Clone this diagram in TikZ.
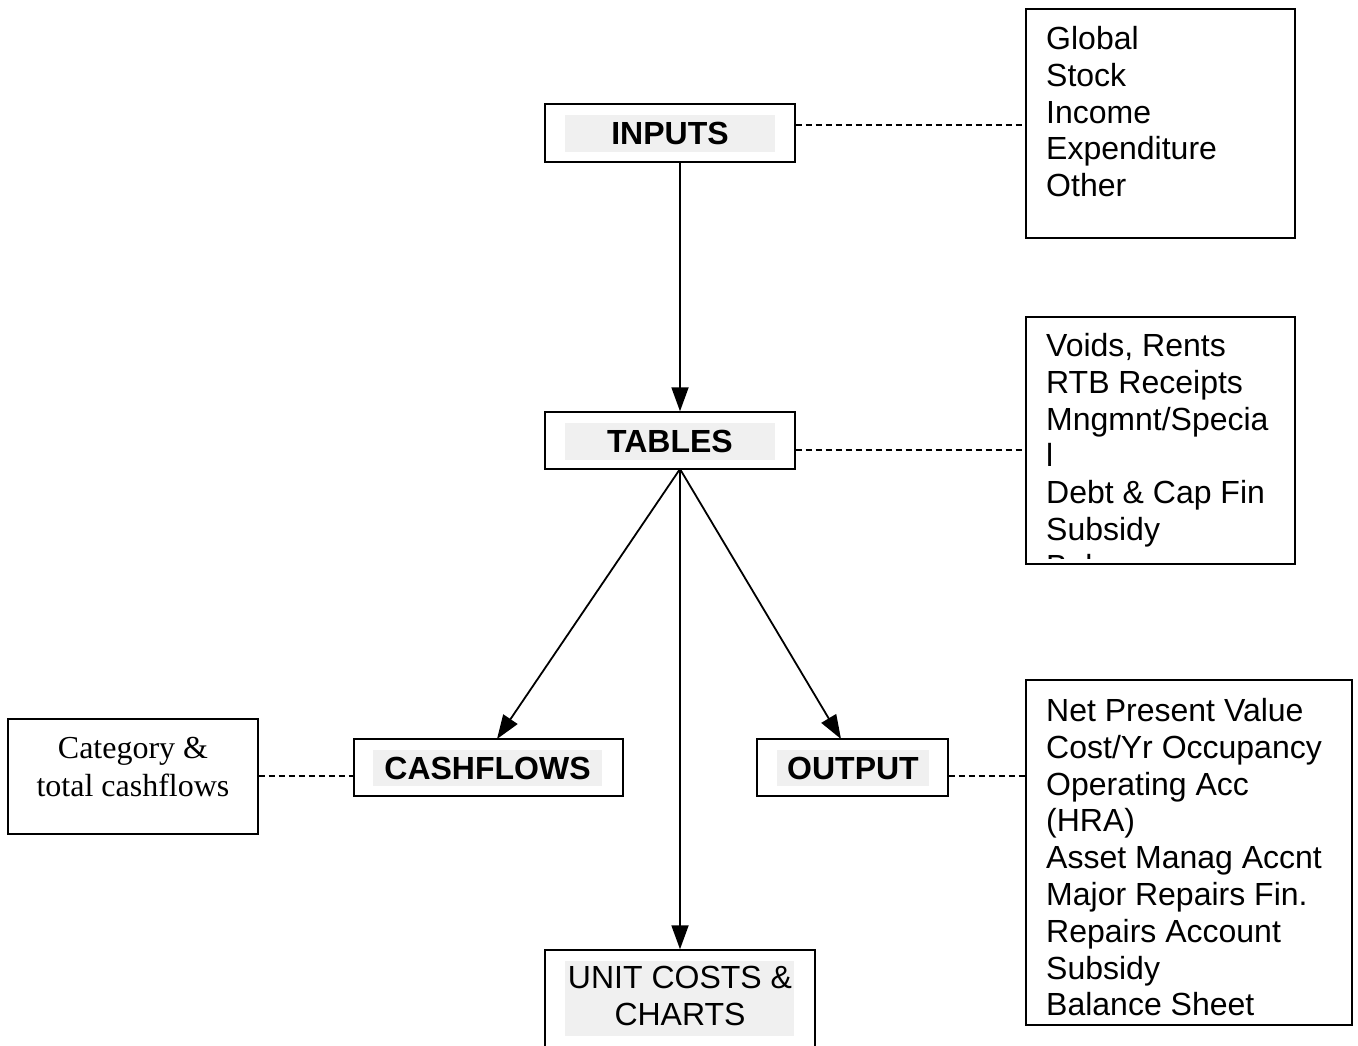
\documentclass[tikz,border=0pt]{standalone}
\usepackage{fontspec}
\setmainfont{Liberation Serif}
\setsansfont{Liberation Sans}
\usetikzlibrary{arrows.meta}
\definecolor{hl}{HTML}{F0F0F0}
\tikzset{
  box/.style={draw=black, line width=1.4pt, fill=white, rectangle, inner sep=0pt},
  hlbox/.style={fill=hl, draw=none, rectangle, inner sep=0pt},
  lbl/.style={font=\sffamily\bfseries\fontsize{32}{36.8}\selectfont, inner sep=0pt, anchor=base},
  plain/.style={font=\sffamily\fontsize{32}{36.8}\selectfont, inner sep=0pt, anchor=base},
  item/.style={font=\sffamily\fontsize{32}{36.8}\selectfont, inner sep=0pt, anchor=base west},
  serif/.style={font=\rmfamily\fontsize{32}{36.8}\selectfont, inner sep=0pt, anchor=base},
  link/.style={line width=1.2pt, dash pattern=on 6pt off 4pt},
  flow/.style={line width=1.8pt, -{Triangle[length=24pt,width=17pt]}}
}
\begin{document}
\begin{tikzpicture}[x=1pt,y=-1pt]
\clip (0,0) rectangle (1358,1045);
\fill[white] (0,0) rectangle (1358,1045);

% main boxes
\node[box, minimum width=250pt, minimum height=58pt] (inputs) at (670,133) {};
\node[hlbox, minimum width=210pt, minimum height=37pt] (inputshl) at (670,133.5) {};
\node[lbl] (inputst) at (670,144.5) {INPUTS};

\node[box, minimum width=250pt, minimum height=57pt] (tables) at (670,440.5) {};
\node[hlbox, minimum width=210pt, minimum height=37pt] (tableshl) at (670,441.5) {};
\node[lbl] (tablest) at (670,452.5) {TABLES};

\node[box, minimum width=269pt, minimum height=57pt] (cash) at (488.5,767.5) {};
\node[hlbox, minimum width=229pt, minimum height=36pt] (cashhl) at (487.5,768) {};
\node[lbl] (casht) at (487.5,779.5) {CASHFLOWS};

\node[box, minimum width=191pt, minimum height=57pt] (output) at (852.5,767.5) {};
\node[hlbox, minimum width=152pt, minimum height=36pt] (outputhl) at (853,768) {};
\node[lbl] (outputt) at (853,779.5) {OUTPUT};

\node[box, minimum width=270pt, minimum height=96.5pt] (unit) at (680,998.25) {};
\node[hlbox, minimum width=229pt, minimum height=75pt] (unithl) at (679.5,998.5) {};
\node[plain] (unit1) at (680,988.5) {UNIT COSTS \&};
\node[plain] (unit2) at (680,1025.5) {CHARTS};

% side boxes
\node[box, minimum width=250pt, minimum height=115pt] (cat) at (133,776.5) {};
\node[serif] (cat1) at (133,758.5) {Category \&};
\node[serif] (cat2) at (133,796.5) {total cashflows};

\node[box, minimum width=269pt, minimum height=229pt] (global) at (1160.5,123.5) {};
\foreach \t [count=\i from 0] in {Global,Stock,Income,Expenditure,Other}
  \node[item] (g\i) at (1046,49.5+36.8*\i) {\t};

\node[box, minimum width=269pt, minimum height=247pt] (voids) at (1160.5,440.5) {};
\begin{scope}
\clip (1026,317) rectangle (1295,558);
\foreach \t [count=\i from 0] in {{Voids, Rents},RTB Receipts,Mngmnt/Specia,l,Debt \& Cap Fin,Subsidy,Balance}
  \node[item] (v\i) at (1046,356.5+36.8*\i) {\t};
\end{scope}

\node[box, minimum width=326pt, minimum height=345pt] (npv) at (1189,852.5) {};
\foreach \t [count=\i from 0] in {Net Present Value,Cost/Yr Occupancy,Operating Acc,(HRA),Asset Manag Accnt,Major Repairs Fin.,Repairs Account,Subsidy,Balance Sheet}
  \node[item] (n\i) at (1046,721.5+36.8*\i) {\t};

% dashed links
\draw[link] (inputs.east |- 0,125) -- (global.west |- 0,125);
\draw[link] (tables.east |- 0,450) -- (voids.west |- 0,450);
\draw[link] (cat.east |- 0,776) -- (cash.west |- 0,776);
\draw[link] (output.east |- 0,776) -- (npv.west |- 0,776);

% arrows
\coordinate (tb) at (680,469);
\draw[flow] (inputs.south -| tb) -- (tables.north -| tb);
\draw[flow] (tb) -- (497,739);
\draw[flow] (tb) -- (841,739);
\draw[flow] (tb) -- (unit.north);
\end{tikzpicture}
\end{document}
